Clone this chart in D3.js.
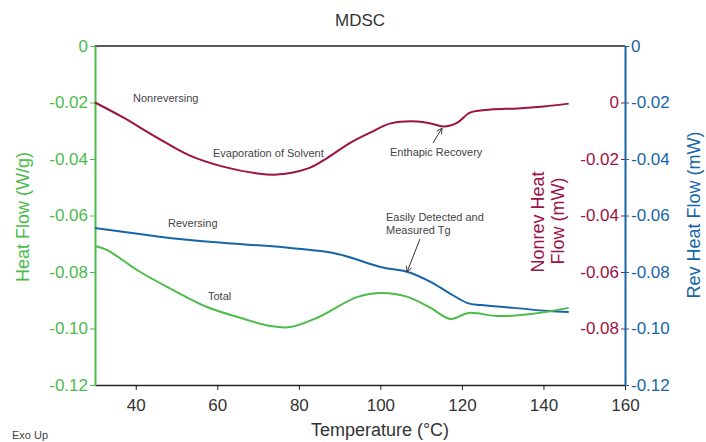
<!DOCTYPE html>
<html>
<head>
<meta charset="utf-8">
<script src="https://cdn.jsdelivr.net/npm/d3@7"></script>
<style>
  body { margin: 0; background: #fff; }
  svg { font-family: "Liberation Sans", Arial, sans-serif; }
</style>
</head>
<body>
<svg id="canvas" width="706" height="442"></svg>
<script>
// temperatures (°C)
let nonrevTemp = [30, 36.9, 45.2, 53.3, 61.4, 69.8, 74.7, 82.1, 86.0, 92.7, 97.6, 102.5, 109.1, 112.3, 115.5, 118.9, 122.1, 127.1, 133.7, 140.1, 146.2];
let nonrevFlow = [0.0, -0.0053, -0.0124, -0.0188, -0.0227, -0.0251, -0.0255, -0.0234, -0.0205, -0.0142, -0.0106, -0.0074, -0.0067, -0.0074, -0.0085, -0.0071, -0.0035, -0.0025, -0.0021, -0.0014, -0.0004];

let revTemp = [30, 53.3, 77.9, 89.5, 100, 106.7, 112.3, 116.5, 121.4, 124.6, 132.7, 141.1, 146.2];
let revFlow = [-0.0644, -0.0687, -0.0715, -0.0736, -0.0782, -0.0800, -0.0835, -0.0871, -0.0910, -0.0917, -0.0927, -0.0938, -0.0942];

let totalTemp = [30, 32.9, 41.1, 49.2, 57.5, 65.6, 73, 77.9, 84.5, 94.4, 100.5, 106.7, 112.3, 117.2, 121.6, 128.8, 136.9, 146.2];
let totalFlow = [-0.0708, -0.0722, -0.0800, -0.0864, -0.0924, -0.0962, -0.0991, -0.0995, -0.0962, -0.0888, -0.0874, -0.0888, -0.0927, -0.0966, -0.0945, -0.0956, -0.0949, -0.0927];

let tempTicks = [40, 60, 80, 100, 120, 140, 160];
let heatTicks = [0, -0.02, -0.04, -0.06, -0.08, -0.10, -0.12];
let nonrevTicks = [0, -0.02, -0.04, -0.06, -0.08];

let green = '#4cbb4a';
let crimson = '#9c1245';
let blue = '#1665a7';

let canvas = d3.select('#canvas');

let xScale = d3.scaleLinear().domain([30, 160]).range([95, 625]);
let yHeat = d3.scaleLinear().domain([0, -0.12]).range([46, 385]);
let yRev = d3.scaleLinear().domain([0, -0.12]).range([46, 385]);
let yNonrev = d3.scaleLinear().domain([0.02, -0.10]).range([46, 385]);

let fmt = (d) => (d === 0 ? '0' : d.toFixed(2));

// title
canvas.append('text')
  .attr('x', 360).attr('y', 26)
  .attr('text-anchor', 'middle')
  .attr('font-size', 17)
  .attr('fill', '#333')
  .text('MDSC');

// top border
canvas.append('line')
  .attr('x1', 95).attr('x2', 625)
  .attr('y1', 46).attr('y2', 46)
  .attr('stroke', '#222').attr('stroke-width', 1.5);

// bottom axis
let xAxis = canvas.append('g')
  .attr('transform', 'translate(0,385)')
  .call(d3.axisBottom(xScale).tickValues(tempTicks).tickSize(5).tickPadding(9).tickSizeOuter(0));
xAxis.select('.domain').attr('stroke', '#222').attr('stroke-width', 1.5);
xAxis.selectAll('.tick line').attr('stroke', '#222');
xAxis.selectAll('text').attr('font-size', 17).attr('fill', '#333').attr('font-family', null);

// left axis
let leftAxis = canvas.append('g')
  .attr('transform', 'translate(95,0)')
  .call(d3.axisLeft(yHeat).tickValues(heatTicks).tickFormat(fmt).tickSize(5).tickPadding(2).tickSizeOuter(0));
leftAxis.select('.domain').attr('stroke', green).attr('stroke-width', 2);
leftAxis.selectAll('.tick line').attr('stroke', green);
leftAxis.selectAll('text').attr('font-size', 17).attr('fill', green).attr('font-family', null);

// right axis: nonreversing (inside) and reversing (outside)
let nonrevAxis = canvas.append('g')
  .attr('transform', 'translate(625,0)')
  .call(d3.axisLeft(yNonrev).tickValues(nonrevTicks).tickFormat(fmt).tickSize(4).tickPadding(2).tickSizeOuter(0));
nonrevAxis.select('.domain').remove();
nonrevAxis.selectAll('.tick line').attr('stroke', crimson);
nonrevAxis.selectAll('text').attr('font-size', 17).attr('fill', crimson).attr('font-family', null);

let revAxis = canvas.append('g')
  .attr('transform', 'translate(625,0)')
  .call(d3.axisRight(yRev).tickValues(heatTicks).tickFormat(fmt).tickSize(4).tickPadding(2).tickSizeOuter(0));
revAxis.select('.domain').attr('stroke', blue).attr('stroke-width', 2);
revAxis.selectAll('.tick line').attr('stroke', blue);
revAxis.selectAll('text').attr('font-size', 17).attr('fill', blue).attr('font-family', null);

// axis titles
canvas.append('text')
  .attr('transform', 'translate(29,217) rotate(-90)')
  .attr('text-anchor', 'middle')
  .attr('font-size', 18).attr('fill', green)
  .text('Heat Flow (W/g)');

canvas.append('text')
  .attr('transform', 'translate(544,222) rotate(-90)')
  .attr('text-anchor', 'middle')
  .attr('font-size', 18).attr('fill', crimson)
  .text('Nonrev Heat');
canvas.append('text')
  .attr('transform', 'translate(564,221) rotate(-90)')
  .attr('text-anchor', 'middle')
  .attr('font-size', 18).attr('fill', crimson)
  .text('Flow (mW)');

canvas.append('text')
  .attr('transform', 'translate(700,215) rotate(-90)')
  .attr('text-anchor', 'middle')
  .attr('font-size', 18).attr('fill', blue)
  .text('Rev Heat Flow (mW)');

canvas.append('text')
  .attr('x', 380).attr('y', 436)
  .attr('text-anchor', 'middle')
  .attr('font-size', 18).attr('fill', '#333')
  .text('Temperature (°C)');

canvas.append('text')
  .attr('x', 12).attr('y', 439)
  .attr('font-size', 11).attr('fill', '#444')
  .text('Exo Up');

// curves
let drawLine = (temps, values, yScale, color) => {
  let pts = temps.map((t, i) => [t, values[i]]);
  canvas.append('path')
    .datum(pts)
    .attr('d', d3.line()
      .x((d) => xScale(d[0]))
      .y((d) => yScale(d[1]))
      .curve(d3.curveCatmullRom.alpha(0.5)))
    .attr('fill', 'none')
    .attr('stroke', color)
    .attr('stroke-width', 2);
};

drawLine(nonrevTemp, nonrevFlow, yNonrev, crimson);
drawLine(revTemp, revFlow, yRev, blue);
drawLine(totalTemp, totalFlow, yHeat, green);

// annotations
let notes = [
  ['Nonreversing', 133, 102],
  ['Evaporation of Solvent', 213, 157],
  ['Enthapic Recovery', 390, 156],
  ['Easily Detected and', 386, 221],
  ['Measured Tg', 386, 234],
  ['Reversing', 168, 227],
  ['Total', 208, 300]
];
canvas.selectAll('.note')
  .data(notes)
  .enter()
  .append('text')
  .attr('class', 'note')
  .attr('x', (d) => d[1])
  .attr('y', (d) => d[2])
  .attr('font-size', 11)
  .attr('fill', '#444')
  .text((d) => d[0]);

// arrows
let defs = canvas.append('defs');
defs.append('marker')
  .attr('id', 'head')
  .attr('viewBox', '0 0 10 10')
  .attr('refX', 9).attr('refY', 5)
  .attr('markerWidth', 7).attr('markerHeight', 7)
  .attr('orient', 'auto')
  .append('path')
  .attr('d', 'M1,1 L9,5 L1,9')
  .attr('fill', 'none')
  .attr('stroke', '#333')
  .attr('stroke-width', 1.2);

canvas.append('line')
  .attr('x1', 433).attr('y1', 143)
  .attr('x2', 442).attr('y2', 128)
  .attr('stroke', '#333').attr('stroke-width', 1)
  .attr('marker-end', 'url(#head)');

canvas.append('line')
  .attr('x1', 420).attr('y1', 239)
  .attr('x2', 407).attr('y2', 272)
  .attr('stroke', '#333').attr('stroke-width', 1)
  .attr('marker-end', 'url(#head)');
</script>
</body>
</html>
